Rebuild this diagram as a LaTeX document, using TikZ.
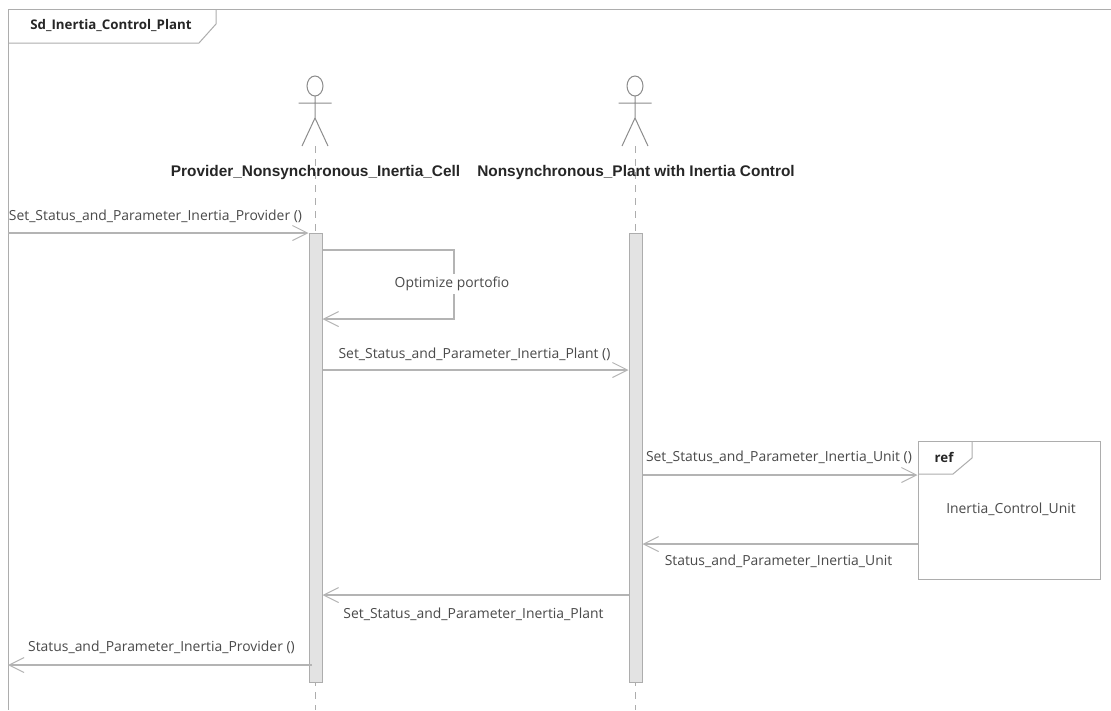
\documentclass[tikz,border=0pt]{standalone}
\usepackage{fontspec}
\setmainfont{Open Sans}
\newfontfamily\boldf{Liberation Sans}[BoldFont={Liberation Sans Bold}]
\usetikzlibrary{arrows.meta,calc}
\definecolor{ln}{HTML}{ADADAD}
\definecolor{ar}{HTML}{B4B4B4}
\definecolor{tx}{HTML}{4A4A4A}
\tikzset{
  frameline/.style={draw=ln,line width=1pt},
  lifeline/.style={draw=ln,line width=1pt,dash pattern=on 7pt off 6pt},
  activation/.style={draw=ln,fill=black!11,line width=1pt,minimum width=13pt,inner sep=0pt},
  msg/.style={draw=ar,line width=1.2pt,-{Straight Barb[length=15pt,width=15pt,line width=1pt]}},
  lbl/.style={text=tx,font=\fontsize{13.9}{16}\selectfont,inner sep=0pt},
  head/.style={text=black!85,font=\boldf\bfseries\fontsize{15.4}{18}\selectfont,inner sep=0pt},
  ttl/.style={text=black!85,font=\bfseries\fontsize{13.3}{15}\selectfont,inner sep=0pt},
  actorline/.style={draw=black!45,line width=1pt}
}
\newcommand{\stick}[1]{%
  \draw[actorline] (#1,86) ellipse (8 and 10);
  \draw[actorline] (#1,96) -- (#1,118) (#1-16.5,103) -- (#1+16.5,103)
     (#1-13,146) -- (#1,118) -- (#1+13,146);
}
\begin{document}
\begin{tikzpicture}[x=1pt,y=-1pt]
\useasboundingbox (0,0) rectangle (1111,710);
\fill[white] (0,0) rectangle (1111,710);
% frame
\draw[frameline] (1111,9) -- (8,9) -- (8,710);
\draw[frameline] (216,9) -- (216,24) -- (199,43) -- (8,43);
\node[ttl] (title) at (111,25.5) {Sd\_Inertia\_Control\_Plant};
% lifelines
\coordinate (t1) at (315,146); \coordinate (e1) at (315,710);
\coordinate (t2) at (635,146); \coordinate (e2) at (635,710);
\draw[lifeline] (t1) -- (e1);
\draw[lifeline] (t2) -- (e2);
\stick{315}
\stick{635}
\node[head] (n1) at (315.5,173) {Provider\_Nonsynchronous\_Inertia\_Cell};
\node[head] (n2) at (636,173) {Nonsynchronous\_Plant with Inertia Control};
% activations
\node[activation,minimum height=449pt] (a1) at (315.5,457.5) {};
\node[activation,minimum height=449pt] (a2) at (635.5,457.5) {};
% ref
\node[draw=ln,line width=1pt,minimum width=182pt,minimum height=138pt,inner sep=0pt] (ref) at (1009,510) {};
\draw[frameline] (972,441) -- (972,458) -- (953,474) -- (918,474);
\node[text=black!85,font=\bfseries\fontsize{13.3}{15}\selectfont,inner sep=0pt] (reflbl) at (944,457.5) {ref};
\node[lbl] (refname) at (1011,509.5) {Inertia\_Control\_Unit};
% messages
\coordinate (L1) at (8,233);
\coordinate (L2) at (8,665);
\draw[msg] (L1) -- (a1.west |- L1);
\draw[msg] (a1.east |- 0,250) -- (454,250) -- (454,319) -- (a1.east |- 0,319);
\node[lbl,fill=white,inner ysep=3pt] (opt) at (452,284) {Optimize portofio};
\draw[msg] (a1.east |- 0,370) -- (a2.west |- 0,370);
\draw[msg] (a2.east |- 0,475) -- (ref.west |- 0,475);
\draw[msg] (ref.west |- 0,544) -- (a2.east |- 0,544);
\draw[msg] (a2.west |- 0,595) -- (a1.east |- 0,595);
\coordinate (s6) at (312,665);
\draw[msg] (s6) -- (L2);
\node[lbl] (m1) at (155.5,216) {Set\_Status\_and\_Parameter\_Inertia\_Provider ()};
\node[lbl] (m2) at (474.5,354.5) {Set\_Status\_and\_Parameter\_Inertia\_Plant ()};
\node[lbl] (m3) at (779,457.5) {Set\_Status\_and\_Parameter\_Inertia\_Unit ()};
\node[lbl] (m4) at (778.5,561.5) {Status\_and\_Parameter\_Inertia\_Unit};
\node[lbl] (m5) at (473.5,614) {Set\_Status\_and\_Parameter\_Inertia\_Plant};
\node[lbl] (m6) at (161.5,647.5) {Status\_and\_Parameter\_Inertia\_Provider ()};
\end{tikzpicture}
\end{document}
